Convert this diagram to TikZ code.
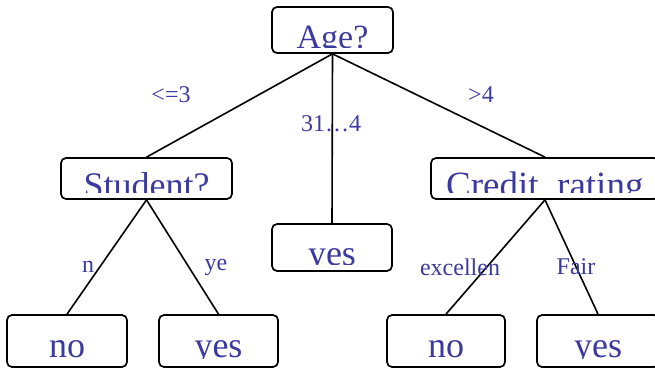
\documentclass[tikz,border=0pt]{standalone}
\usepackage{fontspec}
\setmainfont{Liberation Serif}
\definecolor{txtblue}{RGB}{58,58,160}
\tikzset{
  box/.style={draw=black, line width=1.7pt, rounded corners=5pt, inner sep=0pt},
  boxtext/.style={text=txtblue, font=\fontsize{36}{40}\selectfont, inner sep=0pt, anchor=base},
  lbl/.style={text=txtblue, font=\fontsize{24}{28}\selectfont, inner sep=0pt},
  edge/.style={draw=black, line width=1.6pt}
}
\begin{document}
\begin{tikzpicture}[x=1pt,y=-1pt]
\useasboundingbox (0,0) rectangle (655,372);
% boxes
\node[box, minimum width=121pt, minimum height=46pt] (age) at (332.5,30) {};
\node[box, minimum width=171pt, minimum height=41pt] (student) at (146.5,178.5) {};
\node[box, minimum width=228pt, minimum height=41pt] (credit) at (545,178.5) {};
\node[box, minimum width=120pt, minimum height=47pt] (yesm) at (332,247.5) {};
\node[box, minimum width=120pt, minimum height=52pt] (noa) at (67,341) {};
\node[box, minimum width=119pt, minimum height=52pt] (yesa) at (218.5,341) {};
\node[box, minimum width=118pt, minimum height=52pt] (nob) at (446,341) {};
\node[box, minimum width=122pt, minimum height=52pt] (yesb) at (598,341) {};
% clipped texts
\begin{scope}\clip (272,7) rectangle (393,47);
\node[boxtext, font=\fontsize{34}{40}\selectfont] (agetext) at (332.5,48) {Age?};\end{scope}
\begin{scope}\clip (61,158) rectangle (232,192);
\node[boxtext] (studenttext) at (146.5,197) {Student?};\end{scope}
\begin{scope}\clip (431,158) rectangle (655,192);
\node[boxtext, font=\fontsize{37}{40}\selectfont, anchor=base west] (credittext) at (446,197) {Credit\_rating};\end{scope}
\begin{scope}\clip (272,224) rectangle (392,264);
\node[boxtext] (yesmtext) at (332,265) {yes};\end{scope}
\begin{scope}\clip (7,315) rectangle (127,358);
\node[boxtext] (noatext) at (67,357) {no};\end{scope}
\begin{scope}\clip (159,315) rectangle (278,358);
\node[boxtext] (yesatext) at (218.5,357) {yes};\end{scope}
\begin{scope}\clip (387,315) rectangle (505,358);
\node[boxtext] (nobtext) at (446,357) {no};\end{scope}
\begin{scope}\clip (537,315) rectangle (655,358);
\node[boxtext] (yesbtext) at (598,357) {yes};\end{scope}
% edges
\draw[edge] (age.south) -- (student.north);
\draw[edge] (age.south) -- (yesm.north);
\draw[edge] (age.south) -- (credit.north);
\draw[edge] (student.south) -- (noa.north);
\draw[edge] (student.south) -- (yesa.north);
\draw[edge] (credit.south) -- (nob.north);
\draw[edge] (credit.south) -- (yesb.north);
% labels
\node[lbl] (l1) at (171,95) {<=3};
\node[lbl] (l2) at (331,124) {31\ldots4};
\node[lbl] (l3) at (481,95) {>4};
\node[lbl] (l4) at (88,267) {n};
\node[lbl] (l5) at (216,267) {ye};
\node[lbl] (l6) at (460,267) {excellen};
\node[lbl] (l7) at (576,267) {Fair};
\end{tikzpicture}
\end{document}
